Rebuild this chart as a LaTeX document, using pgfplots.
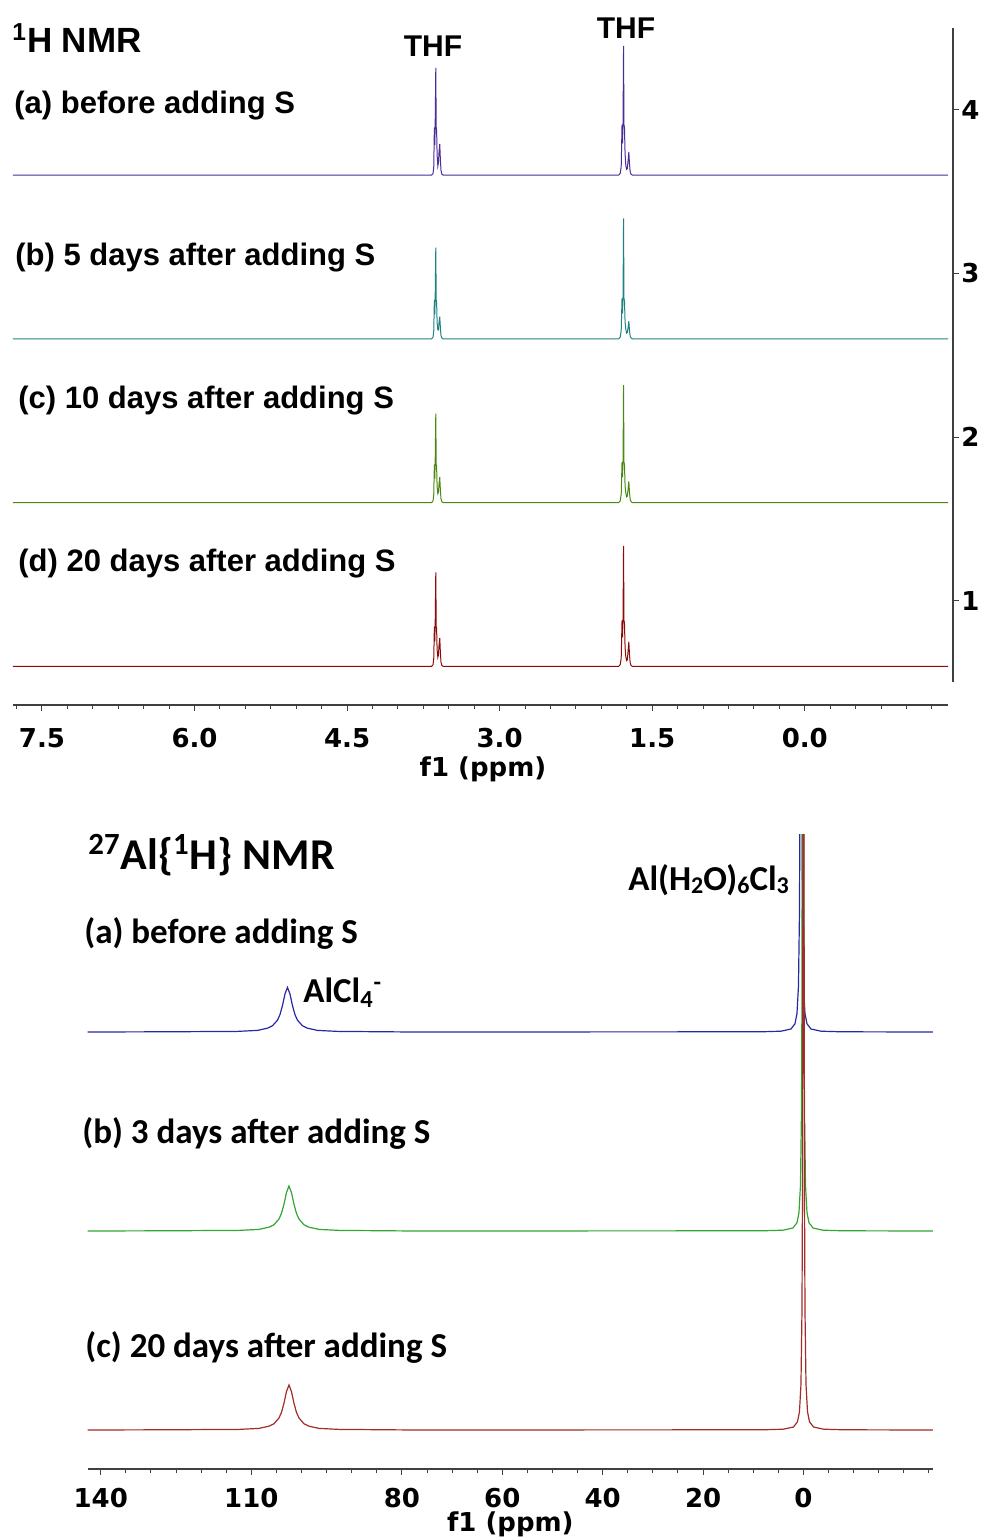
\documentclass[border=0pt]{standalone}
\usepackage{fontspec}
\setmainfont{Liberation Sans}
\newfontfamily\calibri{Carlito}
\newfontfamily\tickfont{DejaVu Sans}
\usepackage{pgfplots}
\usepackage{pgfplotstable}
\pgfplotsset{compat=1.18}

% spectrum colours
\definecolor{hA}{RGB}{75,45,150}
\definecolor{hB}{RGB}{30,130,130}
\definecolor{hC}{RGB}{75,135,20}
\definecolor{hD}{RGB}{140,10,10}
\definecolor{alA}{RGB}{40,40,160}
\definecolor{alB}{RGB}{50,165,50}
\definecolor{alC}{RGB}{160,45,40}

% 1H spectra, stacked with offsets 3.6 / 2.6 / 1.6 / 0.6
\pgfplotstableread{
ppm    a     b     c     d
7.785  3.600 2.600 1.600 0.600
3.670  3.600 2.600 1.600 0.600
3.655  3.610 2.610 1.610 0.610
3.648  3.650 2.650 1.650 0.650
3.642  3.891 2.838 1.833 0.842
3.638  3.784 2.750 1.747 0.753
3.634  3.906 2.850 1.845 0.855
3.628  4.254 3.157 2.143 1.174
3.624  3.891 2.838 1.833 0.842
3.620  3.875 2.825 1.821 0.830
3.615  3.722 2.700 1.698 0.702
3.608  3.655 2.655 1.655 0.655
3.602  3.676 2.654 1.662 0.669
3.596  3.743 2.701 1.716 0.730
3.589  3.790 2.735 1.755 0.773
3.583  3.695 2.668 1.678 0.687
3.577  3.629 2.620 1.623 0.626
3.568  3.605 2.605 1.605 0.605
3.555  3.600 2.600 1.600 0.600
1.830  3.600 2.600 1.600 0.600
1.815  3.610 2.610 1.610 0.610
1.805  3.650 2.650 1.650 0.650
1.797  3.908 2.847 1.847 0.880
1.792  3.794 2.756 1.756 0.777
1.787  3.924 2.860 1.860 0.895
1.782  4.389 3.335 2.317 1.336
1.778  3.908 2.847 1.847 0.880
1.773  3.892 2.834 1.834 0.866
1.767  3.730 2.704 1.704 0.718
1.760  3.660 2.660 1.660 0.660
1.752  3.635 2.635 1.635 0.635
1.745  3.640 2.640 1.640 0.640
1.738  3.685 2.665 1.678 0.690
1.730  3.741 2.708 1.730 0.750
1.724  3.671 2.654 1.665 0.675
1.717  3.621 2.616 1.620 0.623
1.708  3.605 2.605 1.605 0.605
1.695  3.600 2.600 1.600 0.600
-1.410 3.600 2.600 1.600 0.600
}\hnmr

% 27Al spectra, stacked with offsets 2 / 1 / 0
\pgfplotstableread{
ppm    y
142.6  2.000
127.8  2.001
112.8  2.003
108.8  2.008
106.8  2.019
105.8  2.031
104.8  2.059
104.3  2.087
103.8  2.132
103.3  2.191
102.8  2.224
102.3  2.191
101.8  2.132
101.3  2.087
100.8  2.059
99.8   2.031
98.8   2.019
96.8   2.008
92.8   2.003
77.8   2.000
8.5    2.001
4.5    2.004
2.5    2.015
1.7    2.041
1.3    2.092
1.0    2.230
0.8    2.600
0.7    3.200
0.6    5.000
0.5    8.000
0.4    5.000
0.3    3.200
0.2    2.600
0.0    2.230
-0.3   2.092
-0.7   2.041
-1.5   2.015
-3.5   2.004
-7.5   2.001
-25.8  2.000
}\alspecA

\pgfplotstableread{
ppm    y
142.6  1.000
127.5  1.001
112.5  1.003
108.5  1.008
106.5  1.019
105.5  1.031
104.5  1.060
104.0  1.088
103.5  1.134
103.0  1.193
102.5  1.226
102.0  1.193
101.5  1.134
101.0  1.088
100.5  1.060
99.5   1.031
98.5   1.019
96.5   1.008
92.5   1.003
77.5   1.000
8.1    1.001
4.1    1.004
2.1    1.015
1.3    1.041
0.9    1.092
0.6    1.230
0.4    1.600
0.3    2.200
0.2    4.000
0.1    7.000
0.0    4.000
-0.1   2.200
-0.2   1.600
-0.4   1.230
-0.7   1.092
-1.1   1.041
-1.9   1.015
-3.9   1.004
-7.9   1.001
-25.8  1.000
}\alspecB

\pgfplotstableread{
ppm    y
142.6  0.000
127.5  0.001
112.5  0.003
108.5  0.008
106.5  0.019
105.5  0.031
104.5  0.060
104.0  0.088
103.5  0.134
103.0  0.193
102.5  0.226
102.0  0.193
101.5  0.134
101.0  0.088
100.5  0.060
99.5   0.031
98.5   0.019
96.5   0.008
92.5   0.003
77.5   0.000
8.0    0.001
4.0    0.004
2.0    0.015
1.2    0.041
0.8    0.092
0.5    0.230
0.3    0.600
0.2    1.200
0.1    3.000
0.0    6.000
-0.1   3.000
-0.2   1.200
-0.3   0.600
-0.5   0.230
-0.8   0.092
-1.2   0.041
-2.0   0.015
-4.0   0.004
-8.0   0.001
-25.8  0.000
}\alspecC

\pgfplotsset{
  nmr/.style={
    scale only axis, anchor=south west,
    x dir=reverse,
    tick align=outside,
    major tick length=3pt, minor tick length=2pt,
    tick style={black!75, line width=0.5pt},
    axis line style={black!75, line width=0.6pt},
    ticklabel style={font=\tickfont\bfseries\fontsize{13}{13}\selectfont, inner sep=1pt},
    /pgf/number format/assume math mode=true,
    xlabel={f1 (ppm)},
    xlabel style={font=\tickfont\bfseries\fontsize{13}{13}\selectfont, inner sep=1pt},
  }
}

\begin{document}
\begin{tikzpicture}[x=1pt,y=1pt]
\useasboundingbox (0,0) rectangle (491,769);

% ---- 1H NMR ----
\begin{axis}[nmr,
  at={(6.5pt,416.5pt)}, width=470pt, height=338.65pt,
  xmin=-1.457, xmax=7.785, ymin=0.364, ymax=4.5,
  axis x line*=bottom, axis y line*=right,
  x axis line style={shorten <=2.5pt},
  y axis line style={shorten <=11.5pt},
  xtick={0,1.5,3,4.5,6,7.5},
  xticklabels={0.0,1.5,3.0,4.5,6.0,7.5},
  minor xtick={-1.25,-1,...,7.75},
  ytick={1,2,3,4}, yticklabels={1,2,3,4},
  xticklabel style={yshift=-7.5pt},
  xlabel style={yshift=-2pt},
]
\addplot[hA, line width=0.5pt] table[x=ppm, y=a] {\hnmr};
\addplot[hB, line width=0.5pt] table[x=ppm, y=b] {\hnmr};
\addplot[hC, line width=0.5pt] table[x=ppm, y=c] {\hnmr};
\addplot[hD, line width=0.5pt] table[x=ppm, y=d] {\hnmr};
\end{axis}

\begin{scope}[every node/.style={inner sep=0pt}]
\node[anchor=west, font=\bfseries\fontsize{17.5}{20}\selectfont] at (6,750) {\textsuperscript{1}H NMR};
\node[font=\bfseries\fontsize{15}{18}\selectfont] at (216.5,746) {THF};
\node[font=\bfseries\fontsize{15}{18}\selectfont] at (313,755) {THF};
\node[anchor=west, font=\bfseries\fontsize{15.5}{18}\selectfont] at (7,716) {(a) before adding S};
\node[anchor=west, font=\bfseries\fontsize{15.5}{18}\selectfont] at (7.5,640) {(b) 5 days after adding S};
\node[anchor=west, font=\bfseries\fontsize{15.5}{18}\selectfont] at (9,568.5) {(c) 10 days after adding S};
\node[anchor=west, font=\bfseries\fontsize{15.5}{18}\selectfont] at (9,487) {(d) 20 days after adding S};
\end{scope}

% ---- 27Al{1H} NMR ----
\begin{axis}[nmr,
  at={(43.85pt,34.5pt)}, width=422.65pt, height=317pt,
  xmin=-25.8, xmax=142.6, ymin=-0.196, ymax=2.99,
  axis x line*=bottom, axis y line=none,
  ytick=\empty,
  xtick={0,20,40,60,80,110,140},
  xticklabels={0,20,40,60,80,110,140},
  minor xtick={-25,-20,...,140},
  xticklabel style={yshift=-5.5pt},
  xlabel style={yshift=0.5pt},
]
\addplot[alA, line width=0.6pt] table[x=ppm, y=y] {\alspecA};
\addplot[alB, line width=0.6pt] table[x=ppm, y=y] {\alspecB};
\addplot[alC, line width=0.6pt] table[x=ppm, y=y] {\alspecC};
\end{axis}

\begin{scope}[every node/.style={inner sep=0pt}]
\node[anchor=west, font=\calibri\bfseries\fontsize{22}{26}\selectfont] at (44,341.5) {\textsuperscript{27}Al\{\textsuperscript{1}H\} NMR};
\node[anchor=west, font=\calibri\bfseries\fontsize{17.5}{20}\selectfont] at (42,302.5) {(a) before adding S};
\node[anchor=west, font=\calibri\bfseries\fontsize{17.5}{20}\selectfont] at (41,202.5) {(b) 3 days after adding S};
\node[anchor=west, font=\calibri\bfseries\fontsize{17.5}{20}\selectfont] at (42.5,95.5) {(c) 20 days after adding S};
\node[anchor=west, font=\calibri\bfseries\fontsize{17.5}{20}\selectfont] at (151.5,272.5) {AlCl\textsubscript{4}\textsuperscript{-}};
\node[anchor=west, font=\calibri\bfseries\fontsize{17.5}{20}\selectfont] at (314,329) {Al(H\raisebox{-0.2ex}{\fontsize{12}{12}\selectfont 2}O)\raisebox{-0.2ex}{\fontsize{12}{12}\selectfont 6}Cl\raisebox{-0.2ex}{\fontsize{12}{12}\selectfont 3}};
\end{scope}
\end{tikzpicture}
\end{document}
